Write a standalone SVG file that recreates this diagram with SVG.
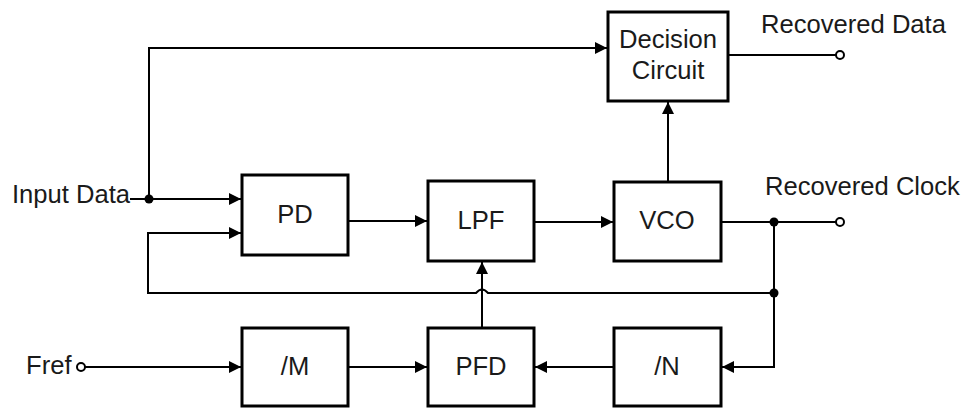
<svg xmlns="http://www.w3.org/2000/svg" width="970" height="409" viewBox="0 0 970 409">
<style>
.box{fill:#fff;stroke:#000;stroke-width:3}
.t{font-family:"Liberation Sans",Arial,sans-serif;font-size:25.6px;fill:#1a1a1a}
.c{text-anchor:middle}
.w{fill:none;stroke:#000;stroke-width:2}
</style>
<defs>
<marker id="ah" viewBox="0 0 10 10" refX="10" refY="5" markerWidth="18" markerHeight="12" markerUnits="userSpaceOnUse" orient="auto">
<path d="M0,0 L10,5 L0,10 Z" fill="#000"/>
</marker>
</defs>
<rect width="970" height="409" fill="#fff"/>
<g id="connectors">
<path class="w" d="M130,199 H241" marker-end="url(#ah)"/>
<path class="w" d="M149,199 V48 H607" marker-end="url(#ah)"/>
<path class="w" d="M348,221 H427" marker-end="url(#ah)"/>
<path class="w" d="M534,222 H613" marker-end="url(#ah)"/>
<path class="w" d="M668,181 V102" marker-end="url(#ah)"/>
<path class="w" d="M728,55 H836"/>
<circle cx="840" cy="55" r="4" fill="#fff" stroke="#000" stroke-width="2"/>
<path class="w" d="M721,222 H836"/>
<circle cx="840" cy="222" r="4" fill="#fff" stroke="#000" stroke-width="2"/>
<circle cx="774" cy="222" r="4.5" fill="#000"/>
<path class="w" d="M774,222 V367 H722" marker-end="url(#ah)"/>
<path class="w" d="M774,293 H488 Q482,286 476,293 H148 V233 H241" marker-end="url(#ah)"/>
<circle cx="774" cy="293" r="4.5" fill="#000"/>
<circle cx="149" cy="199" r="4.5" fill="#000"/>
<path class="w" d="M482,327 V262" marker-end="url(#ah)"/>
<path class="w" d="M85,367 H241" marker-end="url(#ah)"/>
<circle cx="81" cy="367" r="4" fill="#fff" stroke="#000" stroke-width="2"/>
<path class="w" d="M348,367 H427" marker-end="url(#ah)"/>
<path class="w" d="M614,367 H535" marker-end="url(#ah)"/>
</g>
<g id="decision"><rect class="box" x="608" y="12" width="120" height="89"/><text class="t c" x="668" y="48">Decision</text><text class="t c" x="668" y="79">Circuit</text></g>
<g id="pd"><rect class="box" x="242" y="175" width="106" height="80"/><text class="t c" x="295" y="223">PD</text></g>
<g id="lpf"><rect class="box" x="428" y="181" width="106" height="80"/><text class="t c" x="481" y="229">LPF</text></g>
<g id="vco"><rect class="box" x="614" y="182" width="107" height="79"/><text class="t c" x="667" y="229">VCO</text></g>
<g id="m"><rect class="box" x="242" y="328" width="106" height="78"/><text class="t c" x="295" y="375">/M</text></g>
<g id="pfd"><rect class="box" x="428" y="328" width="106" height="78"/><text class="t c" x="481" y="375">PFD</text></g>
<g id="n"><rect class="box" x="614" y="328" width="107" height="78"/><text class="t c" x="667" y="375">/N</text></g>
<g id="labels">
<text class="t" x="12" y="203">Input Data</text>
<text class="t" x="26" y="374">Fref</text>
<text class="t" x="761" y="33">Recovered Data</text>
<text class="t" x="765" y="195">Recovered Clock</text>
</g>
</svg>
